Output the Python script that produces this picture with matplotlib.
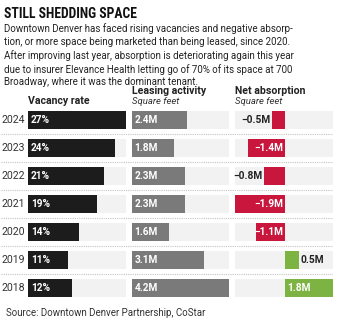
"""Downtown Denver office market table chart: vacancy, leasing and net absorption."""

import matplotlib

matplotlib.use("Agg")
import matplotlib.pyplot as plt
from matplotlib import font_manager as fm

years = ["2024", "2023", "2022", "2021", "2020", "2019", "2018"]
vacancy_pct = [27, 24, 21, 19, 14, 11, 12]
leasing_msf = [2.4, 1.8, 2.3, 2.3, 1.6, 3.1, 4.2]
absorption_msf = [-0.5, -1.4, -0.8, -1.9, -1.1, 0.5, 1.8]

TITLE = "STILL SHEDDING SPACE"
BODY = (
    "Downtown Denver has faced rising vacancies and negative absorp-\n"
    "tion, or more space being marketed than being leased, since 2020.\n"
    "After improving last year, absorption is deteriorating again this year\n"
    "due to insurer Elevance Health letting go of 70% of its space at 700\n"
    "Broadway, where it was the dominant tenant."
)
SOURCE = "Source: Downtown Denver Partnership, CoStar"

BLACK = "#1c1c1c"
GRAY = "#7a7a7a"
RED = "#c8163c"
GREEN = "#7cb342"
TRACK = "#f2f2f2"
TEXT = "#222222"

plt.rcParams["font.family"] = ["Roboto", "DejaVu Sans"]


def condensed_bold():
    """Pick an installed bold condensed/narrow face for the headline, if any."""
    bold = ("bold", 700, "heavy", 800, 900, "black")
    faces = [f for f in fm.fontManager.ttflist if f.weight in bold]
    for want in ("Roboto Condensed", "Liberation Sans Narrow", "Open Sans Condensed"):
        for f in faces:
            if f.name == want:
                return fm.FontProperties(fname=f.fname)
    for f in faces:
        if "condensed" in str(f.stretch) or "Narrow" in f.name or "Condensed" in f.name:
            return fm.FontProperties(fname=f.fname)
    return None


W, H = 357, 322
fig = plt.figure(figsize=(W / 100, H / 100), dpi=100)


def fx(px):
    return px / W


def fy(py):
    return 1 - py / H


rows = list(range(len(years)))
BAR_H = 0.64
top_px, bot_px = 106, 302


def panel(left_px, right_px):
    ax = fig.add_axes([fx(left_px), fy(bot_px), (right_px - left_px) / W, (bot_px - top_px) / H])
    ax.set_ylim(len(years) - 0.5, -0.5)
    ax.axis("off")
    return ax


# dotted row separators
sep = panel(1, 333)
sep.set_xlim(0, 1)
for r in rows[:-1]:
    sep.axhline(r + 0.5, color="#c4c4c4", lw=0.8, ls=(0, (1, 1)))

# vacancy rate
ax1 = panel(28, 126)
vmax = max(vacancy_pct)
ax1.set_xlim(0, vmax)
ax1.barh(rows, [vmax] * len(rows), height=BAR_H, color=TRACK)
ax1.barh(rows, vacancy_pct, height=BAR_H, color=BLACK)
for r, v, yr in zip(rows, vacancy_pct, years):
    ax1.text(0.8, r, f"{v}%", color="white", fontsize=7.3, fontweight="bold", va="center")
    ax1.text(-0.9, r, yr, color="#333333", fontsize=7.6, va="center", ha="right")

# leasing activity
ax2 = panel(132, 229)
lmax = max(leasing_msf)
ax2.set_xlim(0, lmax)
ax2.barh(rows, [lmax] * len(rows), height=BAR_H, color=TRACK)
ax2.barh(rows, leasing_msf, height=BAR_H, color=GRAY)
for r, v in zip(rows, leasing_msf):
    ax2.text(0.11, r, f"{v:.1f}M", color="white", fontsize=7.3, fontweight="bold", va="center")

# net absorption
ax3 = panel(235, 333)
amin, amax = min(absorption_msf), max(absorption_msf)
ax3.set_xlim(amin, amax)
ax3.barh(rows, [amax - amin] * len(rows), left=amin, height=BAR_H, color=TRACK)
colors = [RED if v < 0 else GREEN for v in absorption_msf]
ax3.barh(rows, absorption_msf, height=BAR_H, color=colors)
for r, v in zip(rows, absorption_msf):
    label = f"{v:.1f}M".replace("-", "\u2212")
    kw = dict(fontsize=7.3, fontweight="bold", va="center")
    if abs(v) >= 1.0:
        if v < 0:
            ax3.text(-0.08, r, label, color="white", ha="right", **kw)
        else:
            ax3.text(0.08, r, label, color="white", ha="left", **kw)
    else:
        if v < 0:
            ax3.text(v - 0.07, r, label, color=TEXT, ha="right", **kw)
        else:
            ax3.text(v + 0.08, r, label, color=TEXT, ha="left", **kw)

# headings
fig.text(fx(28), fy(101), "Vacancy rate", fontsize=7.6, fontweight="bold", color=TEXT, va="center")
for x0, head in [(132, "Leasing activity"), (235, "Net absorption")]:
    fig.text(fx(x0), fy(91.5), head, fontsize=7.6, fontweight="bold", color=TEXT, va="center")
    fig.text(fx(x0), fy(102), "Square feet", fontsize=6.8, style="italic", color="#333333", va="center")

title_fp = condensed_bold()
if title_fp is not None:
    title_fp.set_size(9.8)
    fig.text(fx(4), fy(13.5), TITLE, fontproperties=title_fp, color="#111111", va="center")
else:
    fig.text(fx(4), fy(13.5), TITLE, fontsize=9, fontweight="black", color="#111111",
             va="center", family="Roboto")
fig.text(fx(4), fy(23.5), BODY, fontsize=7.0, color=TEXT, va="top", linespacing=1.33)
fig.text(fx(6), fy(313), SOURCE, fontsize=7.0, color="#333333", va="center")

fig.savefig("out.png", dpi=100, facecolor="white")
